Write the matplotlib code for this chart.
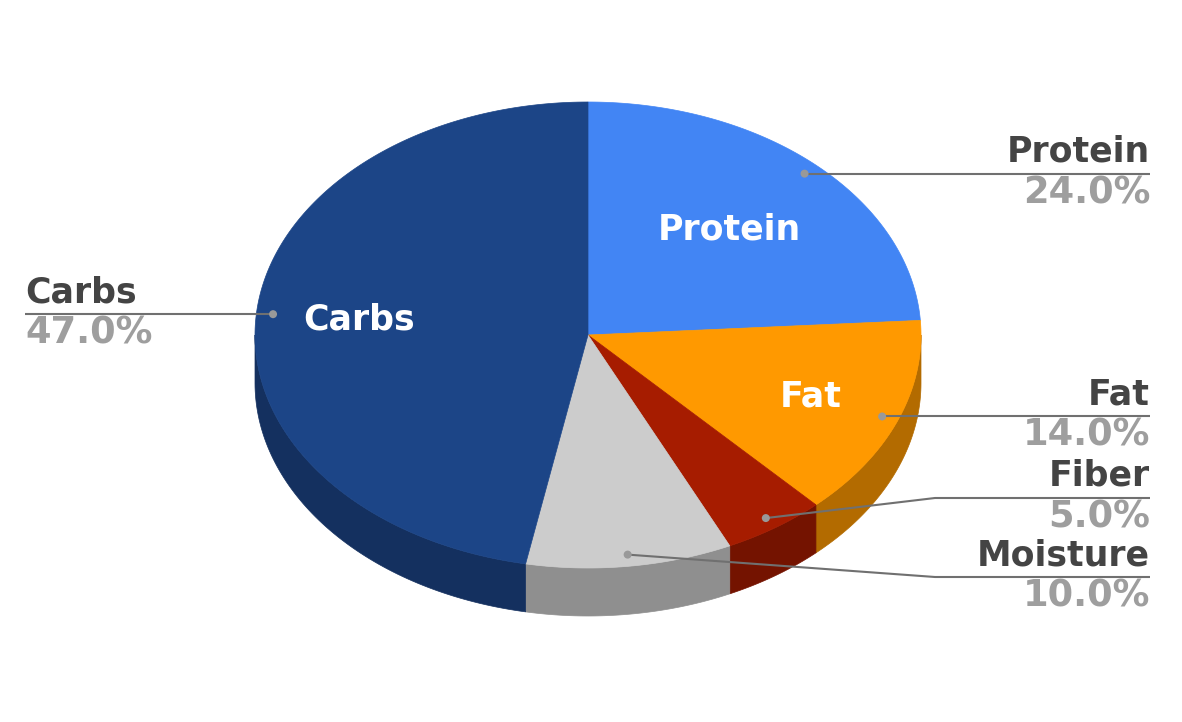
import numpy as np
import matplotlib
matplotlib.use("Agg")
import matplotlib.pyplot as plt
from matplotlib.patches import Polygon, Circle

# data
labels = ["Protein", "Fat", "Fiber", "Moisture", "Carbs"]
values = [24.0, 14.0, 5.0, 10.0, 47.0]
top_colors = ["#4285f4", "#ff9900", "#a61c00", "#cccccc", "#1c4587"]
side_colors = ["#2e5dab", "#b36b00", "#741300", "#8f8f8f", "#14305f"]

# pie geometry in pixel coords
cx, cy, rx, ry, depth = 588, 335, 333, 233, 48


def pt(theta, r=1.0, dy=0.0):
    """theta in degrees, clockwise from 12 o'clock"""
    t = np.radians(theta)
    return cx + r * rx * np.sin(t), cy - r * ry * np.cos(t) + dy


fig = plt.figure(figsize=(11.82, 7.22), dpi=100)
ax = fig.add_axes([0, 0, 1, 1])
ax.set_xlim(0, 1182)
ax.set_ylim(722, 0)
ax.axis('off')

fracs = np.array(values) / sum(values)
bounds = np.concatenate([[0], np.cumsum(fracs) * 360])

# side walls (only the front half is visible: 90..270 deg)
for i in range(len(values)):
    a0, a1 = max(bounds[i], 90), min(bounds[i + 1], 270)
    if a1 <= a0:
        continue
    th = np.linspace(a0, a1, 80)
    top = [pt(t) for t in th]
    bot = [pt(t, dy=depth) for t in th[::-1]]
    ax.add_patch(Polygon(top + bot, closed=True, fc=side_colors[i], ec=side_colors[i], lw=0.5))

# top faces
for i in range(len(values)):
    th = np.linspace(bounds[i], bounds[i + 1], 200)
    poly = [(cx, cy)] + [pt(t) for t in th]
    ax.add_patch(Polygon(poly, closed=True, fc=top_colors[i], ec=top_colors[i], lw=0.5))

# labels inside slices
inner_r = {"Protein": 0.62, "Fat": 0.72, "Carbs": 0.69}
for i, name in enumerate(labels):
    if name not in inner_r:
        continue
    mid = (bounds[i] + bounds[i + 1]) / 2
    x, y = pt(mid, inner_r[name])
    ax.text(x, y, name, color='white', fontsize=25, fontweight='bold',
            ha='center', va='center')

# outer labels with leader lines
line_col = '#707070'
layout = {
    "Protein": dict(line_y=None, elbow=None, side='right'),
    "Fat": dict(line_y=None, elbow=None, side='right'),
    "Fiber": dict(line_y=498, elbow=935, side='right'),
    "Moisture": dict(line_y=577, elbow=935, side='right'),
    "Carbs": dict(line_y=None, elbow=None, side='left'),
}
for i, name in enumerate(labels):
    mid = (bounds[i] + bounds[i + 1]) / 2
    dx, dy = pt(mid, 0.95)
    lay = layout[name]
    ly = lay['line_y'] if lay['line_y'] is not None else dy
    if lay['side'] == 'right':
        xe, tx, ha = 1150, 1150, 'right'
    else:
        xe, tx, ha = 25, 25, 'left'
    if lay['elbow'] is not None:
        xs = [dx, lay['elbow'], xe]
        ys = [dy, ly, ly]
    else:
        xs = [dx, xe]
        ys = [dy, ly]
    ax.plot(xs, ys, color=line_col, lw=1.5, solid_capstyle='butt')
    ax.add_patch(Circle((dx, dy), 4, fc='#999999', ec='none', zorder=5))
    ax.text(tx, ly - 22, name, color='#444444', fontsize=25, fontweight='bold',
            ha=ha, va='center')
    ax.text(tx, ly + 19, f"{values[i]:.1f}%", color='#9e9e9e', fontsize=26.5,
            fontweight='bold', ha=ha, va='center')

fig.savefig('out.png', dpi=100)
